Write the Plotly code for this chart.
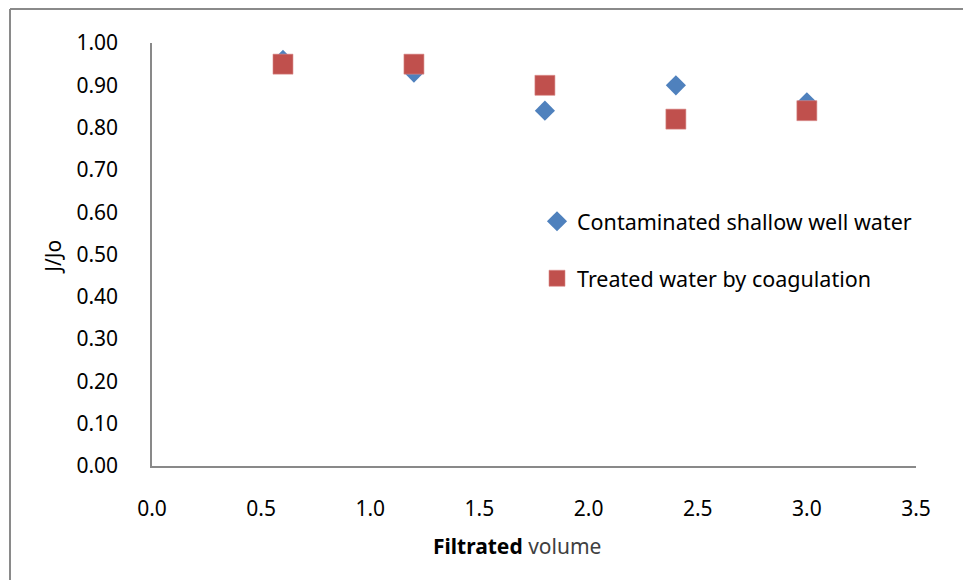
import plotly.graph_objects as go

# Filtrated volume (x) and normalised flux J/Jo for each water type
volume = [0.6, 1.2, 1.8, 2.4, 3.0]
shallow_well = [0.96, 0.93, 0.84, 0.90, 0.86]
coagulated = [0.95, 0.95, 0.90, 0.82, 0.84]

x_ticks = [0.0, 0.5, 1.0, 1.5, 2.0, 2.5, 3.0, 3.5]
y_ticks = [0.0, 0.1, 0.2, 0.3, 0.4, 0.5, 0.6, 0.7, 0.8, 0.9, 1.0]

FONT = "Noto Sans"
AXIS_GREY = "#898989"

fig = go.Figure()
fig.add_trace(go.Scatter(
    x=volume, y=shallow_well, mode="markers",
    name="Contaminated shallow well water", legendgroup="a",
    marker=dict(symbol="diamond", size=15.5, color="#4F81BD"),
))
fig.add_trace(go.Scatter(
    x=volume, y=coagulated, mode="markers",
    name="Treated water by coagulation", legendgroup="b",
    marker=dict(symbol="square", size=20, color="#C0504D",
                line=dict(width=0.6, color="#D98A88")),
))

# plot area: x 152..916 px, y 43..466.5 px
L, R, T, B = 152, 47, 43, 113.5
W, H = 963, 580
pw, ph = W - L - R, H - T - B


def px(xp):
    return (xp - L) / pw


def py(yp):
    return (H - B - yp) / ph


fig.update_layout(
    width=W, height=H,
    margin=dict(l=L, r=R, t=T, b=B),
    paper_bgcolor="white", plot_bgcolor="white",
    font=dict(family=FONT, size=21, color="#000000"),
    showlegend=True,
    legend=dict(
        x=px(537), y=py(201), xanchor="left", yanchor="top",
        font=dict(size=21.5, color="#000000"),
        traceorder="grouped", tracegroupgap=26,
        bgcolor="rgba(0,0,0,0)",
    ),
    xaxis=dict(
        range=[0, 3.5], tickvals=x_ticks,
        ticktext=[f"{v:.1f}" for v in x_ticks],
        showgrid=False, zeroline=False, showline=True,
        linecolor=AXIS_GREY, linewidth=1.5, ticks="",
        ticklabelstandoff=23,
        tickfont=dict(size=21, color="#000000"),
    ),
    yaxis=dict(
        range=[0, 1.0], tickvals=y_ticks,
        ticktext=[f"{v:.2f}" for v in y_ticks],
        showgrid=False, zeroline=False, showline=True,
        linecolor=AXIS_GREY, linewidth=1.5, ticks="",
        ticklabelstandoff=28,
        tickfont=dict(size=21, color="#000000"),
    ),
    annotations=[
        dict(text="J/Jo", x=px(53), y=py(257), xref="paper", yref="paper",
             xanchor="center", yanchor="middle",
             showarrow=False, textangle=-90, font=dict(size=21, color="#000000")),
        dict(text="<b>Filtrated</b> <span style='color:#404040'>volume</span>",
             x=px(517), y=py(547), xref="paper", yref="paper",
             xanchor="center", yanchor="middle",
             showarrow=False, font=dict(size=21, color="#000000")),
    ],
    shapes=[
        dict(type="line", xref="paper", yref="paper",
             x0=px(10), x1=px(10), y0=py(585), y1=py(9),
             line=dict(color="#8a8a8a", width=2)),
        dict(type="line", xref="paper", yref="paper",
             x0=px(10), x1=px(970), y0=py(9), y1=py(9),
             line=dict(color="#8a8a8a", width=2)),
    ],
)

fig.write_html("out.html")
